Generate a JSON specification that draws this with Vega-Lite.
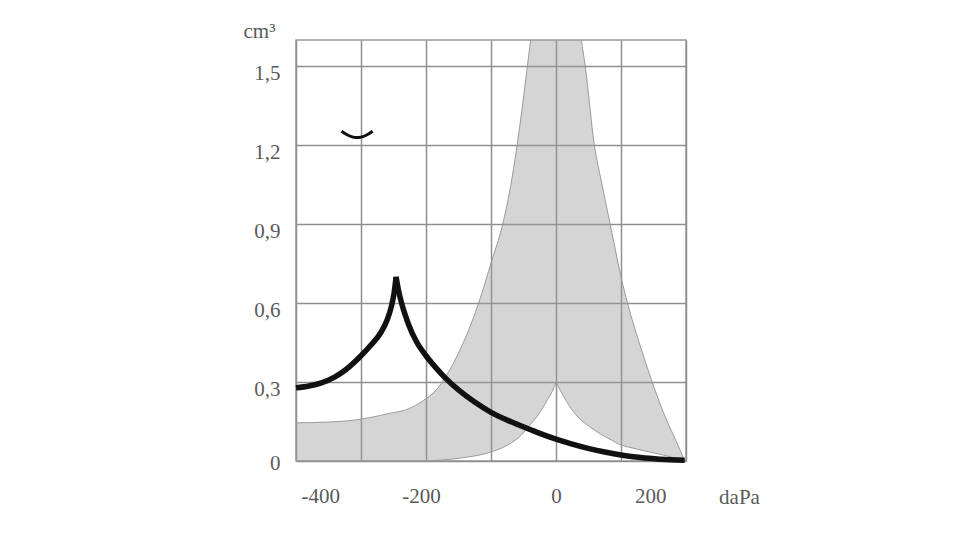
{
  "$schema": "https://vega.github.io/schema/vega-lite/v6.json",
  "autosize": {"type": "none"},
  "padding": {"left": 296, "top": 40, "right": 274, "bottom": 79},
  "width": 390,
  "height": 421,
  "background": "white",
  "config": {
    "font": "Liberation Serif",
    "view": {"stroke": "#999999", "strokeWidth": 1.5},
    "axis": {
      "grid": true,
      "gridColor": "#8f8f8f",
      "gridWidth": 1.5,
      "domain": false,
      "ticks": false,
      "tickSize": 0,
      "labelFont": "Liberation Serif",
      "labelFontSize": 21,
      "labelColor": "#5a5a5a",
      "titleFont": "Liberation Serif",
      "titleFontSize": 21,
      "titleFontWeight": "normal",
      "titleColor": "#5a5a5a"
    }
  },
  "datasets": {
    "band": [
      {"part": "left", "x": -400, "upper": 0.145, "lower": 0},
      {"part": "left", "x": -350, "upper": 0.148, "lower": 0},
      {"part": "left", "x": -308, "upper": 0.156, "lower": 0},
      {"part": "left", "x": -258, "upper": 0.18, "lower": 0},
      {"part": "left", "x": -225, "upper": 0.2, "lower": 0},
      {"part": "left", "x": -207, "upper": 0.225, "lower": 0.001},
      {"part": "left", "x": -181, "upper": 0.28, "lower": 0.003},
      {"part": "left", "x": -165, "upper": 0.34, "lower": 0.006},
      {"part": "left", "x": -150, "upper": 0.41, "lower": 0.01},
      {"part": "left", "x": -139, "upper": 0.47, "lower": 0.014},
      {"part": "left", "x": -119, "upper": 0.6, "lower": 0.022},
      {"part": "left", "x": -99, "upper": 0.76, "lower": 0.035},
      {"part": "left", "x": -83, "upper": 0.89, "lower": 0.05},
      {"part": "left", "x": -68, "upper": 1.07, "lower": 0.07},
      {"part": "left", "x": -57, "upper": 1.25, "lower": 0.09},
      {"part": "left", "x": -44, "upper": 1.5, "lower": 0.125},
      {"part": "left", "x": -39, "upper": 1.6, "lower": 0.14},
      {"part": "left", "x": -26, "upper": 1.86, "lower": 0.18},
      {"part": "left", "x": -15, "upper": 2.03, "lower": 0.225},
      {"part": "left", "x": -3, "upper": 2.17, "lower": 0.28},
      {"part": "left", "x": 0, "upper": 2.2, "lower": 0.3},
      {"part": "right", "x": 0, "upper": 2.2, "lower": 0.3},
      {"part": "right", "x": 13, "upper": 2.05, "lower": 0.24},
      {"part": "right", "x": 26, "upper": 1.85, "lower": 0.19},
      {"part": "right", "x": 39, "upper": 1.6, "lower": 0.155},
      {"part": "right", "x": 45, "upper": 1.5, "lower": 0.143},
      {"part": "right", "x": 59, "upper": 1.2, "lower": 0.118},
      {"part": "right", "x": 70, "upper": 1.06, "lower": 0.1},
      {"part": "right", "x": 85, "upper": 0.88, "lower": 0.08},
      {"part": "right", "x": 101, "upper": 0.69, "lower": 0.06},
      {"part": "right", "x": 110, "upper": 0.6, "lower": 0.054},
      {"part": "right", "x": 128, "upper": 0.45, "lower": 0.043},
      {"part": "right", "x": 148, "upper": 0.3, "lower": 0.032},
      {"part": "right", "x": 170, "upper": 0.156, "lower": 0.02},
      {"part": "right", "x": 185, "upper": 0.075, "lower": 0.01},
      {"part": "right", "x": 198, "upper": 0, "lower": 0}
    ],
    "curve": [
      {"branch": "rise", "x": -400, "v": 0.278},
      {"branch": "rise", "x": -380, "v": 0.285},
      {"branch": "rise", "x": -361, "v": 0.297},
      {"branch": "rise", "x": -340, "v": 0.32},
      {"branch": "rise", "x": -324, "v": 0.346},
      {"branch": "rise", "x": -300, "v": 0.4},
      {"branch": "rise", "x": -285, "v": 0.44},
      {"branch": "rise", "x": -269, "v": 0.49},
      {"branch": "rise", "x": -260, "v": 0.535},
      {"branch": "rise", "x": -253, "v": 0.59},
      {"branch": "rise", "x": -249, "v": 0.64},
      {"branch": "rise", "x": -246, "v": 0.7},
      {"branch": "fall", "x": -246, "v": 0.7},
      {"branch": "fall", "x": -242, "v": 0.645},
      {"branch": "fall", "x": -237, "v": 0.595},
      {"branch": "fall", "x": -232, "v": 0.555},
      {"branch": "fall", "x": -227, "v": 0.52},
      {"branch": "fall", "x": -215, "v": 0.455},
      {"branch": "fall", "x": -200, "v": 0.4},
      {"branch": "fall", "x": -185, "v": 0.355},
      {"branch": "fall", "x": -170, "v": 0.315},
      {"branch": "fall", "x": -150, "v": 0.27},
      {"branch": "fall", "x": -124, "v": 0.222},
      {"branch": "fall", "x": -100, "v": 0.185},
      {"branch": "fall", "x": -68, "v": 0.148},
      {"branch": "fall", "x": -40, "v": 0.12},
      {"branch": "fall", "x": -26, "v": 0.106},
      {"branch": "fall", "x": 0, "v": 0.083},
      {"branch": "fall", "x": 25, "v": 0.064},
      {"branch": "fall", "x": 51, "v": 0.047},
      {"branch": "fall", "x": 75, "v": 0.034},
      {"branch": "fall", "x": 102, "v": 0.022},
      {"branch": "fall", "x": 130, "v": 0.013},
      {"branch": "fall", "x": 160, "v": 0.007},
      {"branch": "fall", "x": 198, "v": 0.003}
    ],
    "arc": [
      {"x": -330, "v": 1.253},
      {"x": -320, "v": 1.238},
      {"x": -312, "v": 1.231},
      {"x": -306, "v": 1.229},
      {"x": -300, "v": 1.231},
      {"x": -292, "v": 1.238},
      {"x": -282, "v": 1.253}
    ]
  },
  "encoding": {
    "x": {
      "field": "x",
      "type": "quantitative",
      "scale": {"domain": [-400, 200], "nice": false, "zero": false},
      "axis": {
        "values": [-400, -300, -200, -100, 0, 100, 200],
        "labelExpr": "datum.value % 200 == 0 ? '' + datum.value : ''",
        "labelOffset": {"expr": "datum.value == 200 ? -20 : datum.value == -400 ? 5 : datum.value == -200 ? -5 : 0"},
        "labelPadding": 24,
        "labelBaseline": "top",
        "title": "daPa",
        "titleX": 443,
        "titleY": 36,
        "titleAlign": "center",
        "titleBaseline": "middle"
      }
    }
  },
  "layer": [
    {
      "data": {"name": "band"},
      "mark": {"type": "area", "fill": "#9c9c9c", "fillOpacity": 0.42, "clip": true, "interpolate": "monotone"},
      "encoding": {
        "detail": {"field": "part"},
        "y": {
          "field": "upper",
          "type": "quantitative",
          "scale": {"domain": [0, 1.6], "nice": false},
          "axis": {
            "values": [0, 0.3, 0.6, 0.9, 1.2, 1.5],
            "labelExpr": "datum.value == 0 ? '0' : replace(format(datum.value, '.1f'), '.', ',')",
            "labelOffset": {"expr": "datum.value == 0 ? 2 : 7"},
            "labelPadding": 16,
            "title": "cm³",
            "titleAngle": 0,
            "titleX": -37,
            "titleY": -9,
            "titleAlign": "center",
            "titleBaseline": "middle"
          }
        },
        "y2": {"field": "lower"}
      }
    },
    {
      "data": {"name": "band"},
      "mark": {"type": "line", "stroke": "#9a9a9a", "strokeWidth": 1, "clip": true, "interpolate": "monotone"},
      "encoding": {"detail": {"field": "part"}, "y": {"field": "upper", "type": "quantitative"}}
    },
    {
      "data": {"name": "band"},
      "mark": {"type": "line", "stroke": "#9a9a9a", "strokeWidth": 1, "clip": true, "interpolate": "monotone"},
      "encoding": {"detail": {"field": "part"}, "y": {"field": "lower", "type": "quantitative"}}
    },
    {
      "mark": {"type": "rule", "stroke": "#222222", "strokeWidth": 2},
      "encoding": {"x": {"datum": 0}}
    },
    {
      "data": {"name": "curve"},
      "mark": {"type": "line", "stroke": "#111111", "strokeWidth": 5.5, "strokeJoin": "bevel", "interpolate": "monotone"},
      "encoding": {"detail": {"field": "branch"}, "y": {"field": "v", "type": "quantitative"}}
    },
    {
      "data": {"name": "arc"},
      "mark": {"type": "line", "stroke": "#111111", "strokeWidth": 3, "interpolate": "monotone"},
      "encoding": {"y": {"field": "v", "type": "quantitative"}}
    }
  ]
}
